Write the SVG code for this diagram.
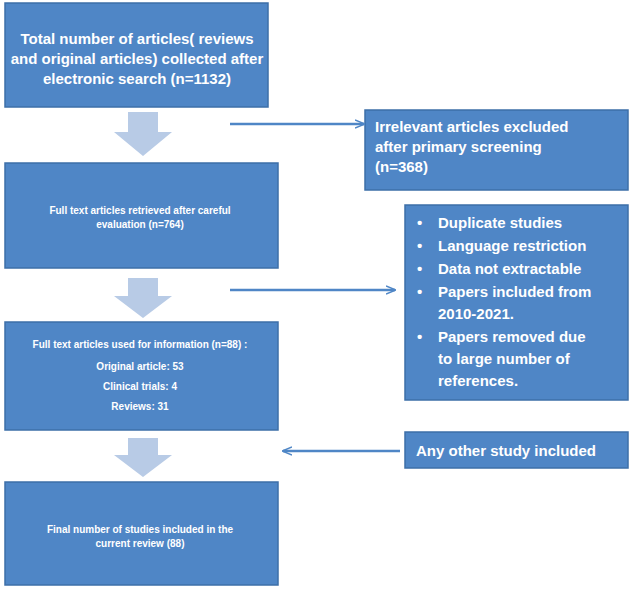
<svg xmlns="http://www.w3.org/2000/svg" width="639" height="593" viewBox="0 0 639 593">
<style>
.box{fill:#4f86c6;stroke:#3d6fa8;stroke-width:1.5}
.t{font-family:"Liberation Sans",Arial,sans-serif;font-weight:bold;fill:#fff}
.big{font-size:15px}
.sm{font-size:10px}
.blk{fill:#b8cbe6}
.ln{stroke:#4f86c6;stroke-width:2.5;fill:none;marker-end:url(#ah)}
</style>
<defs><marker id="ah" markerWidth="10" markerHeight="10" refX="9" refY="5" orient="auto" markerUnits="userSpaceOnUse"><path d="M0,1 L10,5 L0,9" fill="none" stroke="#4f86c6" stroke-width="1.5"/></marker></defs>
<rect width="639" height="593" fill="#fff"/>
<g id="n1"><rect class="box" x="5" y="3" width="263" height="104"/>
<text class="t big" text-anchor="middle"><tspan x="137" y="44">Total number of articles( reviews</tspan><tspan x="137" y="64">and original articles) collected after</tspan><tspan x="137" y="84">electronic search (n=1132)</tspan></text></g>
<g id="n2"><rect class="box" x="5" y="163" width="273" height="105"/>
<text class="t sm" text-anchor="middle"><tspan x="140" y="214">Full text articles retrieved after careful</tspan><tspan x="140" y="228">evaluation (n=764)</tspan></text></g>
<g id="n3"><rect class="box" x="5" y="322" width="273" height="108"/>
<text class="t sm" text-anchor="middle"><tspan x="140" y="348">Full text articles used for information (n=88) :</tspan><tspan x="140" y="370">Original article: 53</tspan><tspan x="140" y="390">Clinical trials: 4</tspan><tspan x="140" y="410">Reviews: 31</tspan></text></g>
<g id="n4"><rect class="box" x="5" y="482" width="273" height="103"/>
<text class="t sm" text-anchor="middle"><tspan x="140" y="533">Final number of studies included in the</tspan><tspan x="140" y="547">current review (88)</tspan></text></g>
<g id="r1"><rect class="box" x="365" y="110" width="263" height="80"/>
<text class="t big"><tspan x="375" y="132">Irrelevant articles excluded</tspan><tspan x="375" y="152">after primary screening</tspan><tspan x="375" y="172">(n=368)</tspan></text></g>
<g id="r2"><rect class="box" x="405" y="205" width="223" height="195"/>
<text class="t big"><tspan x="417" y="228">•</tspan><tspan x="438" y="228">Duplicate studies</tspan><tspan x="417" y="251">•</tspan><tspan x="438" y="251">Language restriction</tspan><tspan x="417" y="274">•</tspan><tspan x="438" y="274">Data not extractable</tspan><tspan x="417" y="297">•</tspan><tspan x="438" y="297">Papers included from</tspan><tspan x="438" y="319">2010-2021.</tspan><tspan x="417" y="342">•</tspan><tspan x="438" y="342">Papers removed due</tspan><tspan x="438" y="364">to large number of</tspan><tspan x="438" y="386">references.</tspan></text></g>
<g id="r3"><rect class="box" x="405" y="432" width="223" height="36"/>
<text class="t big"><tspan x="416" y="456">Any other study included</tspan></text></g>
<g id="connectors">
<path class="blk" d="M128,112 H158 V132 H172 L143,156 L114,132 H128 Z"/>
<path class="blk" d="M128,278 H158 V296 H172 L143,318 L114,296 H128 Z"/>
<path class="blk" d="M128,438 H158 V455 H172 L143,477 L114,455 H128 Z"/>
<line class="ln" x1="230" y1="124" x2="364" y2="124"/>
<line class="ln" x1="230" y1="290" x2="395" y2="290"/>
<line class="ln" x1="400" y1="451" x2="283" y2="451"/>
</g>
</svg>
